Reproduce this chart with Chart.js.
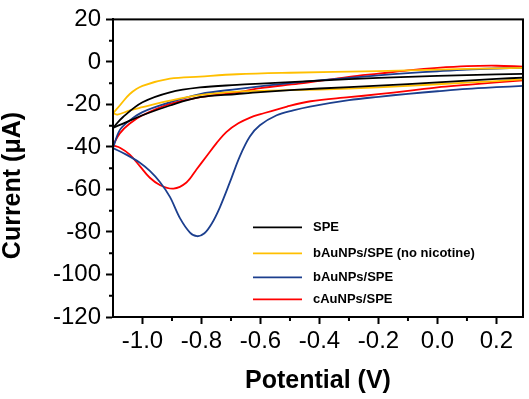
<!DOCTYPE html>
<html>
<head>
<meta charset="utf-8">
<script src="https://cdn.jsdelivr.net/npm/chart.js@4"></script>
<style>
  html, body { margin: 0; padding: 0; background: #fff; }
</style>
</head>
<body>
<canvas id="cv" width="529" height="399"></canvas>
<script>
// [potential (V), current (uA)], each branch left to right
const speCathodic = [[-1.1, -31], [-1.066, -29], [-1.0, -25.1], [-0.907, -20.5], [-0.805, -16.6], [-0.68, -15.1], [-0.6, -14.2], [-0.4, -12.5], [-0.2, -11.2], [0.0, -9.6], [0.2, -8.0], [0.29, -7.4]];
const speAnodic = [[-1.1, -31], [-1.066, -25.9], [-1.0, -19], [-0.907, -14.3], [-0.805, -12], [-0.68, -10.8], [-0.6, -10.2], [-0.4, -8.8], [-0.2, -7.5], [0.0, -6.6], [0.2, -5.9], [0.29, -5.6]];

const noNicCathodic = [[-1.1, -24], [-1.085, -24.8], [-1.043, -22.8], [-1.0, -21.3], [-0.907, -18.2], [-0.805, -15.6], [-0.68, -14], [-0.6, -13.6], [-0.4, -13], [-0.2, -12], [0.0, -10.5], [0.2, -9], [0.29, -8.2]];
const noNicAnodic = [[-1.1, -24.2], [-1.077, -20.5], [-1.043, -15.1], [-1.0, -11.3], [-0.907, -7.9], [-0.805, -6.9], [-0.68, -5.8], [-0.5, -5.1], [-0.2, -4.3], [0.0, -3.6], [0.2, -3.0], [0.29, -2.8]];

const bAuCathodic = [[-1.1, -40.5], [-1.055, -43.6], [-1.01, -47.3], [-0.975, -51.3], [-0.941, -56.5], [-0.907, -63.5], [-0.873, -73.5], [-0.839, -80.3], [-0.815, -82], [-0.79, -80.6], [-0.765, -76], [-0.738, -68.5], [-0.704, -56.7], [-0.67, -44.4], [-0.636, -35.1], [-0.602, -29.8], [-0.545, -25.1], [-0.489, -22.8], [-0.432, -21], [-0.3, -18], [-0.2, -16.4], [-0.1, -15], [0.0, -13.8], [0.1, -12.7], [0.2, -11.9], [0.29, -11.3]];
const bAuAnodic = [[-1.1, -40.5], [-1.077, -32.1], [-1.043, -27.5], [-1.0, -23.6], [-0.907, -19], [-0.805, -15.1], [-0.68, -12.8], [-0.5, -10], [-0.3, -7.5], [-0.2, -6.3], [-0.1, -5.3], [0.0, -4.4], [0.1, -3.6], [0.2, -3.1], [0.29, -2.8]];

const cAuCathodic = [[-1.1, -39.3], [-1.075, -40.5], [-1.043, -43.6], [-1.009, -49], [-0.975, -54.5], [-0.94, -58], [-0.895, -59.6], [-0.851, -56.7], [-0.817, -50.6], [-0.783, -44.4], [-0.749, -38.2], [-0.715, -32.9], [-0.675, -28.9], [-0.635, -26.2], [-0.6, -24.6], [-0.51, -21], [-0.43, -18.5], [-0.3, -16.6], [-0.2, -15.2], [-0.1, -13.6], [0.0, -12], [0.1, -10.8], [0.2, -9.6], [0.29, -8.7]];
const cAuAnodic = [[-1.1, -39.3], [-1.077, -33.6], [-1.043, -29], [-1.0, -25.1], [-0.907, -19.7], [-0.805, -16.6], [-0.68, -14.3], [-0.6, -12.3], [-0.47, -10.2], [-0.3, -7], [-0.2, -5.5], [-0.1, -4], [0.0, -2.8], [0.1, -2.0], [0.2, -1.8], [0.29, -2.2]];

const seriesNames = ['SPE', 'bAuNPs/SPE (no nicotine)', 'bAuNPs/SPE', 'cAuNPs/SPE'];
const seriesColors = ['#000000', '#ffbf00', '#1c3f8e', '#ff0000'];
const seriesBranches = [[speCathodic, speAnodic], [noNicCathodic, noNicAnodic], [bAuCathodic, bAuAnodic], [cAuCathodic, cAuAnodic]];

const minorPotentials = [-0.9, -0.7, -0.5, -0.3, -0.1, 0.1];
const minorCurrents = [-110, -90, -70, -50, -30, -10, 10];

const FONT = "'Liberation Sans', Arial, sans-serif";

let datasets = [];
seriesBranches.forEach((pair, i) => {
  pair.forEach(branch => {
    datasets.push({
      label: seriesNames[i],
      data: branch.map(p => ({ x: p[0], y: p[1] })),
      borderColor: seriesColors[i],
      borderWidth: 1.8,
      showLine: true,
      pointRadius: 0,
      tension: 0.35,
      fill: false
    });
  });
});

// frame, minor ticks
const frame = {
  id: 'frame',
  afterDraw(chart) {
    const { ctx, chartArea: a, scales: { x, y } } = chart;
    ctx.save();
    ctx.strokeStyle = '#000';
    ctx.lineWidth = 2;
    ctx.strokeRect(a.left, a.top, a.right - a.left, a.bottom - a.top);
    ctx.beginPath();
    minorPotentials.forEach(v => {
      const px = x.getPixelForValue(v);
      ctx.moveTo(px, a.bottom);
      ctx.lineTo(px, a.bottom + 4);
    });
    minorCurrents.forEach(v => {
      const py = y.getPixelForValue(v);
      ctx.moveTo(a.left, py);
      ctx.lineTo(a.left - 4, py);
    });
    ctx.stroke();
    ctx.restore();
  }
};

// legend sits inside the plot
const insideLegend = {
  id: 'insideLegend',
  afterDatasetsDraw(chart) {
    const { ctx, chartArea: a } = chart;
    const rows = [208, 234, 258, 280];
    ctx.save();
    ctx.font = "bold 13px " + FONT;
    ctx.textBaseline = 'middle';
    seriesNames.forEach((name, i) => {
      const yy = a.top + rows[i];
      ctx.strokeStyle = seriesColors[i];
      ctx.lineWidth = 1.8;
      ctx.beginPath();
      ctx.moveTo(a.left + 140, yy);
      ctx.lineTo(a.left + 189, yy);
      ctx.stroke();
      ctx.fillStyle = '#000';
      ctx.fillText(name, a.left + 200, yy);
    });
    ctx.restore();
  }
};

new Chart(document.getElementById('cv'), {
  type: 'scatter',
  data: { datasets },
  options: {
    responsive: false,
    animation: false,
    events: [],
    layout: { padding: { top: 14, right: 6, left: 0, bottom: 0 } },
    plugins: { legend: { display: false }, tooltip: { enabled: false } },
    scales: {
      x: {
        type: 'linear',
        min: -1.1,
        max: 0.29,
        ticks: {
          stepSize: 0.2,
          includeBounds: false,
          autoSkip: false,
          maxRotation: 0,
          color: '#000',
          padding: 3,
          font: { family: FONT, size: 24 },
          callback: v => v.toFixed(1)
        },
        grid: { drawOnChartArea: false, drawTicks: true, tickLength: 7, tickWidth: 2, tickColor: '#000' },
        border: { display: true, color: '#000', width: 2 },
        title: {
          display: true,
          text: 'Potential (V)',
          color: '#000',
          font: { family: FONT, size: 25, weight: 'bold' },
          padding: { top: 0, bottom: 3 }
        },
        afterFit: s => { s.height = 82; }
      },
      y: {
        type: 'linear',
        min: -120,
        max: 20,
        ticks: {
          stepSize: 20,
          color: '#000',
          padding: 5,
          font: { family: FONT, size: 24 }
        },
        grid: { drawOnChartArea: false, drawTicks: true, tickLength: 7, tickWidth: 2, tickColor: '#000' },
        border: { display: true, color: '#000', width: 2 },
        title: {
          display: true,
          text: 'Current (\u03bcA)     ',
          color: '#000',
          font: { family: FONT, size: 25, weight: 'bold', lineHeight: 1 },
          padding: { top: 1, bottom: 0 }
        },
        afterFit: s => { s.width = 113; }
      }
    }
  },
  plugins: [frame, insideLegend]
});
</script>
</body>
</html>
